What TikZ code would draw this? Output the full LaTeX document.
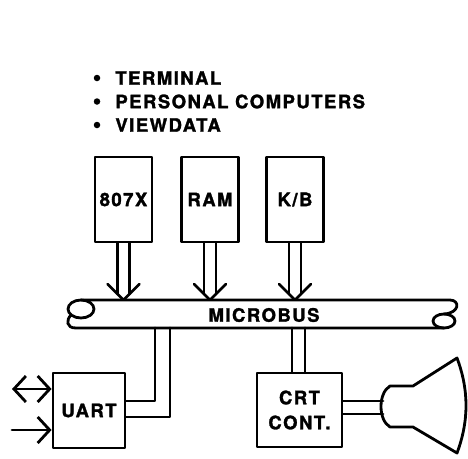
\documentclass[tikz,border=0pt]{standalone}
\usepackage{fontspec}
\setmainfont{TeX Gyre Heros}[LetterSpace=8,BoldFeatures={FakeBold=1.6}]
\usetikzlibrary{arrows.meta,calc}
\newcommand\diafont{\fontsize{18.5}{25}\selectfont\bfseries}
\begin{document}
\begin{tikzpicture}[x=1pt,y=-1pt,line width=2.8pt,line join=round,line cap=round,
  box/.style={draw,line width=2.8pt,inner sep=0pt,font=\diafont},
  topbox/.style={box,minimum width=57pt,minimum height=85pt},
  lbl/.style={inner sep=0pt,font=\diafont,anchor=west},
  dot/.style={circle,fill,inner sep=0pt,minimum size=6.5pt},
  barb/.tip={Straight Barb[length=12pt,width=26pt]}]
\useasboundingbox (0,0) rectangle (468,458);
% bullet list
\node[dot] (b1) at (97,78) {};
\node[dot] (b2) at (97,101.5) {};
\node[dot] (b3) at (97,125) {};
\node[lbl] (l1) at (114,78) {TERMINAL};
\node[lbl] (l2) at (114,101.5) {PERSONAL COMPUTERS};
\node[lbl] (l3) at (114,125) {VIEWDATA};
% top boxes
\node[topbox] (cpu) at (123.5,199.5) {807X};
\node[topbox] (ram) at (210,199.5) {RAM};
\node[topbox] (kb) at (295,199.5) {K/B};
% bottom boxes
\node[box,minimum width=72pt,minimum height=75pt] (uart) at (89,410.5) {UART};
\node[box,minimum width=85pt,minimum height=74pt,align=center] (crt) at (299.5,410) {CRT\\CONT.};
% microbus
\node[inner sep=0pt,font=\diafont] (mbus) at (264,315) {MICROBUS};
\coordinate (bustop) at (0,300);
\coordinate (busbot) at (0,328);
\draw (81,300) -- (450,300) .. controls (460,300) and (460,313) .. (444,314);
\draw (81,309) ellipse [x radius=13pt,y radius=9pt];
\draw (71,315) .. controls (66,320) and (66,328) .. (76,328) -- (444,328);
\draw (444,321) ellipse [x radius=11pt,y radius=7pt];
% arrows into the bus
\foreach \n in {cpu,ram,kb}{
  \coordinate (\n-tip) at (\n.south |- bustop);
  \draw ([xshift=-6pt]\n.south) -- ($(\n-tip)+(-6,-6)$);
  \draw ([xshift=6pt]\n.south) -- ($(\n-tip)+(6,-6)$);
  \draw ($(\n-tip)+(-16,-16)$) -- (\n-tip) -- ($(\n-tip)+(16,-16)$);
}
% UART to bus
\coordinate (bu1) at (155,328);
\coordinate (bu2) at (170,328);
\draw ([yshift=9.5pt]uart.east) -| (bu1);
\draw ([yshift=-6.5pt]uart.east) -| (bu2);
% CRT to bus
\coordinate (bc1) at (292,328);
\coordinate (bc2) at (305,328);
\draw (bc1) -- (bc1 |- crt.north);
\draw (bc2) -- (bc2 |- crt.north);
% serial lines
\coordinate (s1) at (12,389);
\coordinate (s2) at (12,430);
\draw[barb-barb] (s1) -- (s1 -| uart.west);
\draw[-barb] (s2) -- (s2 -| uart.west);
% monitor
\coordinate (n1) at (383,401);
\coordinate (n2) at (383,414);
\draw ([yshift=9pt]crt.east) -- (n1);
\draw ([yshift=-4pt]crt.east) -- (n2);
\draw (390,386) -- (413,386) -- (457,358)
  .. controls (469,390) and (469,421) .. (457,453)
  -- (413,427) -- (390,427)
  .. controls (378,420) and (378,393) .. (390,386) -- cycle;
\end{tikzpicture}
\end{document}
